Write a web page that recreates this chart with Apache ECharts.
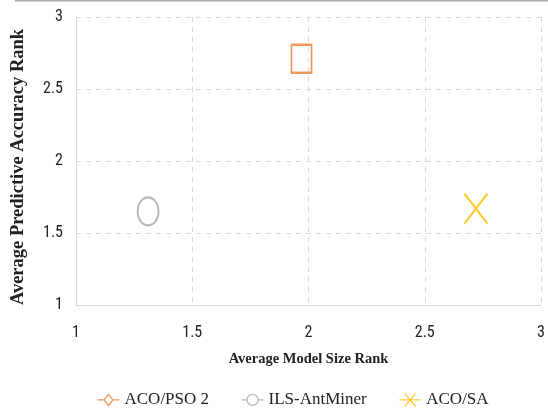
<!DOCTYPE html>
<html><head><meta charset="utf-8">
<script src="https://cdn.jsdelivr.net/npm/echarts@6/dist/echarts.min.js"></script>
<style>html,body{margin:0;padding:0;background:#fff}#c{width:548px;height:412px}</style>
</head><body><div id="c"></div>
<script>
const seriesNames = ['ACO/PSO 2', 'ILS-AntMiner', 'ACO/SA'];
const modelSizeRank = [1.97, 1.31, 2.72];
const accuracyRank = [2.71, 1.65, 1.67];
const colors = ['#ED7D31', '#A5A5A5', '#FFC000'];
const xTicks = [1, 1.5, 2, 2.5, 3];
const yTicks = [1, 1.5, 2, 2.5, 3];

const xPath = 'path://M0,0 L20,28 M20,0 L0,28';
const symbols = ['rect', 'circle', xPath];
const sizes = [[20, 28], [21, 28], [23, 30]];
const legendIcons = [
  'path://M0,10 L6,10 M6,10 L10,5 L14,10 L10,15 Z M14,10 L20,10',
  'path://M0,10 L5,10 M10,5 A5,5 0 1 1 9.99,5 M15,10 L20,10',
  'path://M0,10 L20,10 M5,4 L15,16 M15,4 L5,16'
];

const tickFont = "'Liberation Sans Narrow', 'Roboto Condensed', 'Liberation Sans', sans-serif";
const chart = echarts.init(document.getElementById('c'));
chart.setOption({
  animation: false,
  grid: { left: 76, right: 7, top: 17, bottom: 107 },
  xAxis: {
    type: 'value', min: 1, max: 3, interval: 0.5,
    name: 'Average Model Size Rank', nameLocation: 'middle', nameGap: 47,
    nameTextStyle: { fontFamily: 'Liberation Serif', fontWeight: 'bold', fontSize: 14.5, color: '#222' },
    axisLine: { show: true, lineStyle: { color: '#D9D9D9' } },
    axisTick: { show: false },
    axisLabel: { fontFamily: tickFont, fontSize: 16, color: '#222', margin: 20,
      formatter: v => xTicks.includes(v) ? String(v) : '' },
    splitLine: { show: true, lineStyle: { color: '#D9D9D9', type: [5, 5] } }
  },
  yAxis: {
    type: 'value', min: 1, max: 3, interval: 0.5,
    name: 'Average Predictive Accuracy Rank', nameLocation: 'middle', nameGap: 48,
    nameTextStyle: { fontFamily: 'Liberation Serif', fontWeight: 'bold', fontSize: 18.5, color: '#222', padding: [0, 12, 0, 0] },
    axisLine: { show: true, lineStyle: { color: '#D9D9D9' } },
    axisTick: { show: false },
    axisLabel: { fontFamily: tickFont, fontSize: 16, color: '#222', margin: 13,
      formatter: v => yTicks.includes(v) ? String(v) : '' },
    splitLine: { show: true, lineStyle: { color: '#D9D9D9', type: [5, 5] } }
  },
  legend: {
    bottom: -2, left: 90, itemGap: 30, itemWidth: 22, itemHeight: 14,
    textStyle: { fontFamily: 'Liberation Serif', fontSize: 17, color: '#222' },
    data: seriesNames.map((n, i) => ({
      name: n, icon: legendIcons[i],
      itemStyle: { color: 'none', borderColor: colors[i], borderWidth: 1.3 }
    }))
  },
  graphic: [{ type: 'line', shape: { x1: 15, y1: 0.5, x2: 548, y2: 0.5 }, style: { stroke: '#AAAAAA', lineWidth: 2 } }],
  series: seriesNames.map((n, i) => ({
    name: n, type: 'scatter',
    symbol: symbols[i], symbolSize: sizes[i],
    itemStyle: { color: 'none', borderColor: colors[i], borderWidth: i === 2 ? 2.2 : 2 },
    data: [[modelSizeRank[i], accuracyRank[i]]]
  }))
});
</script></body></html>
